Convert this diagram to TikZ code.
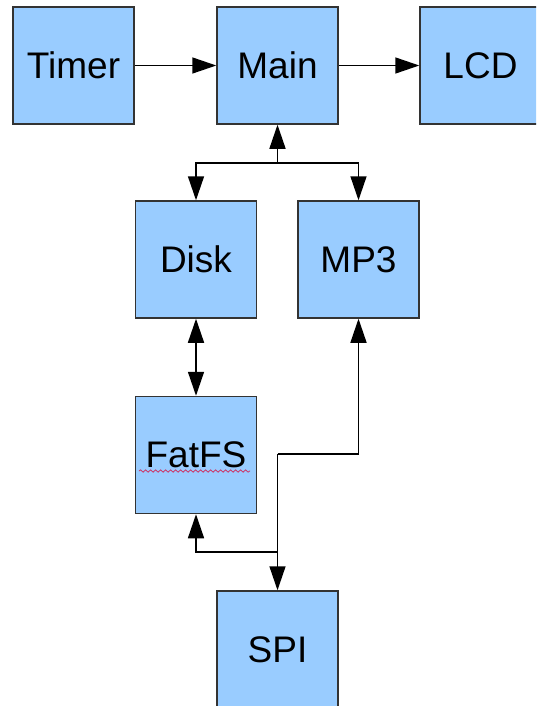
\documentclass[tikz,border=0pt]{standalone}
\usepackage{fontspec}
\setmainfont{Liberation Sans}
\usepackage{tikz}
\usetikzlibrary{positioning, arrows.meta, calc, decorations.pathmorphing}
\usepackage{xcolor}
\definecolor{blkfill}{HTML}{99CCFF}
\definecolor{blkline}{HTML}{333333}
\definecolor{spellred}{HTML}{CC3366}
\tikzset{
  blk/.style={draw=blkline, line width=1.5pt, fill=blkfill, inner sep=0pt,
    minimum width=121pt, minimum height=117pt,
    font=\fontsize{37}{40}\selectfont},
  arr/.style={line width=1.5pt, -{Triangle[width=16pt, length=24pt]}},
  arrboth/.style={line width=1.5pt, {Triangle[width=16pt, length=24pt]}-{Triangle[width=16pt, length=24pt]}}
}

\begin{document}
\begin{tikzpicture}[x=1pt, y=-1pt]
  \useasboundingbox (0,0) rectangle (536,706);
  \clip (0,0) rectangle (536,706);
  % blocos: nome/x/y do centro
  \foreach \xn/\xx/\xy in {
    Timer/73.5/65.5, Main/277.5/65.5, LCD/480.5/65.5,
    Disk/196/259.5, MP3/358.5/259.5,
    FatFS/196/455, SPI/277.5/649.5}
  { \node[blk] (\xn) at (\xx,\xy) {\xn}; }
  % sublinhado do corretor ortografico
  \draw[spellred, line width=0.8pt, decorate,
    decoration={snake, segment length=5pt, amplitude=1.2pt}]
    (139,471) -- (250,471);
  \draw[arr] (Timer) -- (Main);
  \draw[arr] (Main) -- (LCD);
  \coordinate (jtop) at (277.5,163);
  \draw[arr] (jtop) -- (Main.south);
  \draw[arr] (jtop) -| (Disk.north);
  \draw[arr] (jtop) -| (MP3.north);
  \draw[arrboth] (Disk) -- (FatFS);
  \coordinate (jmid) at (277.5,454);
  \coordinate (jlow) at (277.5,552);
  \draw[arr] (jmid) -| (MP3.south);
  \draw[line width=1.5pt] (jmid) -- (jlow);
  \draw[arr] (jlow) -- (SPI.north);
  \draw[arr] (jlow) -| (FatFS.south);
\end{tikzpicture}
\end{document}
